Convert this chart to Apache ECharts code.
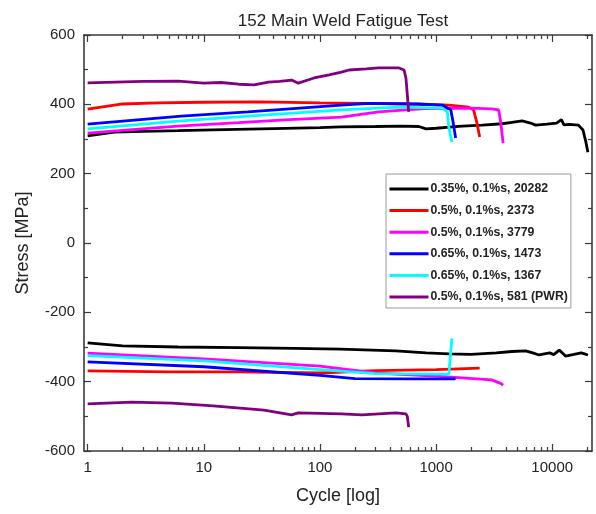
<!DOCTYPE html>
<html>
<head>
<meta charset="utf-8">
<script src="https://cdn.jsdelivr.net/npm/echarts@6/dist/echarts.min.js"></script>
<style>
html,body{margin:0;padding:0;background:#fff;}
#chart{width:596px;height:514px;}
</style>
</head>
<body>
<div id="chart"></div>
<script>
const titleText = '152 Main Weld Fatigue Test';
const xName = 'Cycle [log]';
const yName = 'Stress [MPa]';
const xMajorTicks = [1, 10, 100, 1000, 10000];
const xMinorTicks = [2,3,4,5,6,7,8,9,20,30,40,50,60,70,80,90,200,300,400,500,600,700,800,900,2000,3000,4000,5000,6000,7000,8000,9000,20000];

const seriesNames = ['0.35%, 0.1%s, 20282','0.5%, 0.1%s, 2373','0.5%, 0.1%s, 3779','0.65%, 0.1%s, 1473','0.65%, 0.1%s, 1367','0.5%, 0.1%s, 581 (PWR)'];
const seriesColors = ['#000000','#ff0000','#ff00ff','#0000ff','#00ffff','#800080'];

const blackUpper = [[1,309],[1.7,320],[3,322],[6,324],[15,327],[40,330],[100,333],[150,335],[300,336],[500,337],[710,336],[820,329],[1000,331],[1300,334],[1680,337],[2500,340],[3700,344],[4500,348],[5500,352],[6500,346],[7200,340],[9000,343],[10900,346],[12000,356],[12600,341],[14000,342],[16800,340],[18400,326],[19500,291],[20282,262]];
const blackLower = [[1,-288],[2,-297],[6,-300],[20,-302],[60,-304],[150,-306],[450,-311],[820,-317],[1290,-320],[2000,-321],[3300,-317],[4500,-313],[5900,-311],[6800,-317],[7700,-323],[9500,-317],[10300,-322],[11500,-309],[12300,-318],[13000,-326],[15000,-322],[17800,-317],[19000,-320],[20282,-323]];
const redUpper = [[1,386],[2,401],[4,404],[10,406],[30,407],[100,404],[250,403],[600,401],[1290,398],[1900,392],[2100,384],[2240,349],[2373,306]];
const redLower = [[1,-369],[5,-372],[20,-372],[100,-375],[300,-368],[1000,-365],[2373,-361]];
const magentaUpper = [[1,317],[2,325],[6,337],[20,347],[50,355],[153,363],[320,378],[550,384],[800,388],[2000,389],[3000,387],[3460,384],[3600,349],[3779,288]];
const magentaLower = [[1,-318],[10,-334],[100,-355],[300,-375],[1000,-384],[3000,-395],[3600,-405],[3779,-410]];
const blueUpper = [[1,343],[6.4,366],[24,378],[153,398],[265,403],[700,401],[1130,398],[1340,384],[1400,349],[1473,303]];
const blueLower = [[1,-343],[10,-357],[100,-382],[200,-391],[600,-392],[1473,-392]];
const cyanUpper = [[1,329],[6.4,352],[30,368],[153,384],[480,392],[1130,389],[1250,378],[1290,332],[1367,291]];
const cyanLower = [[1,-325],[10,-340],[100,-365],[300,-377],[1290,-378],[1340,-378],[1367,-275]];
const purpleUpper = [[1,462],[3,466],[6,467],[10,461],[14,463],[20,458],[27,456],[36,464],[45,466],[57,470],[65,461],[89,476],[120,485],[153,493],[178,499],[250,502],[320,505],[480,505],[530,499],[550,476],[581,378]];
const purpleLower = [[1,-464],[2.4,-459],[5.3,-462],[12,-470],[33,-482],[57,-496],[65,-490],[153,-493],[230,-496],[450,-490],[550,-493],[565,-500],[581,-531]];

const branches = [
  [blackUpper, blackLower],
  [redUpper, redLower],
  [magentaUpper, magentaLower],
  [blueUpper, blueLower],
  [cyanUpper, cyanLower],
  [purpleUpper, purpleLower]
];

const FONT = 'Liberation Sans, Arial, sans-serif';
const AXC = '#3a3a3a';
const XMIN = 0.93, XMAX = 22000;

const series = [];
branches.forEach((pair, i) => {
  pair.forEach(d => {
    series.push({
      name: seriesNames[i],
      type: 'line',
      data: d,
      symbol: 'none',
      smooth: false,
      xAxisIndex: 0,
      yAxisIndex: 0,
      color: seriesColors[i],
      lineStyle: {color: seriesColors[i], width: 2.8},
      z: 2 + i,
      animation: false
    });
  });
});

function xAx(pos, vals, len, labels, line) {
  return {
    type: 'log', logBase: 10, position: pos, min: XMIN, max: XMAX,
    gridIndex: 0,
    axisLine: {show: line, onZero: false, lineStyle: {color: AXC, width: 1.6}},
    axisTick: {show: true, inside: true, length: len, customValues: vals, lineStyle: {color: AXC, width: 1.2}},
    axisLabel: labels ? {show: true, customValues: xMajorTicks, formatter: v => String(Math.round(v)), fontFamily: FONT, fontSize: 15, color: '#222', margin: 9} : {show: false},
    splitLine: {show: false},
    minorTick: {show: false},
    name: labels ? xName : '',
    nameLocation: 'middle',
    nameGap: 36,
    nameTextStyle: {fontFamily: FONT, fontSize: 18, color: '#222'}
  };
}
function yAx(pos, labels) {
  return {
    type: 'value', position: pos, min: -600, max: 600, interval: 200,
    axisLine: {show: true, onZero: false, lineStyle: {color: AXC, width: 1.6}},
    axisTick: {show: true, inside: true, length: 7, lineStyle: {color: AXC, width: 1.2}},
    minorTick: {show: true, splitNumber: 2, length: 4, lineStyle: {color: AXC, width: 1.2}},
    axisLabel: labels ? {show: true, fontFamily: FONT, fontSize: 15, color: '#222', margin: 9} : {show: false},
    splitLine: {show: false},
    name: labels ? yName : '',
    nameLocation: 'middle',
    nameGap: 52,
    nameRotate: 90,
    nameTextStyle: {fontFamily: FONT, fontSize: 18, color: '#222'}
  };
}

const chart = echarts.init(document.getElementById('chart'), null, {renderer: 'canvas'});
chart.setOption({
  animation: false,
  backgroundColor: '#fff',
  title: {
    text: titleText, left: 338, top: 8, textAlign: 'center',
    textStyle: {fontFamily: FONT, fontSize: 17, fontWeight: 'normal', color: '#222'}
  },
  grid: {left: 84, right: 4, top: 35, bottom: 63, containLabel: false},
  legend: {
    data: seriesNames,
    orient: 'vertical', left: 386, top: 174,
    itemWidth: 39, itemHeight: 14, itemGap: 7.6,
    padding: [8, 3, 4, 2],
    borderColor: '#9a9a9a', borderWidth: 1,
    backgroundColor: '#fff',
    selectedMode: false,
    itemStyle: {opacity: 0},
    lineStyle: {width: 3},
    textStyle: {fontFamily: FONT, fontSize: 12.3, lineHeight: 14, fontWeight: 'bold', color: '#222', padding: [0,0,0,-3]}
  },
  xAxis: [
    xAx('bottom', xMajorTicks, 7, true, true),
    xAx('bottom', xMinorTicks, 4, false, false),
    xAx('top', xMajorTicks, 7, false, true),
    xAx('top', xMinorTicks, 4, false, false)
  ],
  yAxis: [yAx('left', true), yAx('right', false)],
  series: series
});
</script>
</body>
</html>
